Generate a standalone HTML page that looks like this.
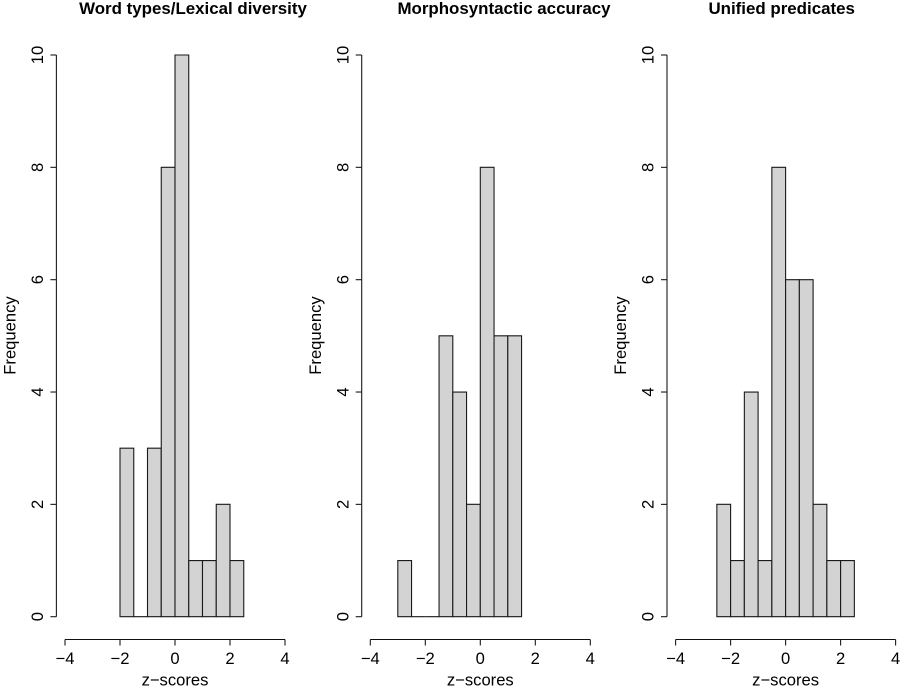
<!DOCTYPE html>
<html>
<head>
<meta charset="utf-8">
<style>
html,body{margin:0;padding:0;background:#fff;}
svg{display:block;}
text{font-family:"Liberation Sans",Arial,sans-serif;fill:#000;}
</style>
</head>
<body>
<svg id="chart" xmlns="http://www.w3.org/2000/svg" width="900" height="691" viewBox="0 0 900 691"></svg>
<script>
const panelTitles = ["Word types/Lexical diversity", "Morphosyntactic accuracy", "Unified predicates"];
const binStarts = [-2, -3, -2.5];
const binWidth = 0.5;
const countsLexical = [3, 0, 3, 8, 10, 1, 1, 2, 1];
const countsMorpho = [1, 0, 0, 5, 4, 2, 8, 5, 5];
const countsUnified = [2, 1, 4, 1, 8, 6, 6, 2, 1, 1];
const xTicks = [-4, -2, 0, 2, 4];
const yTicks = [0, 2, 4, 6, 8, 10];
const xLabel = "z\u2212scores";
const yLabel = "Frequency";

const allCounts = [countsLexical, countsMorpho, countsUnified];
const svg = document.getElementById('chart');
const NS = 'http://www.w3.org/2000/svg';
const layoutLeft = [65, 370.3, 675.6];
const titleCenters = [193, 504, 781.7];
const plotWidth = 220;
const yZero = 616.7, yTen = 55;
const yScale = v => yZero + (yTen - yZero) * v / 10;
const fmt = v => String(v).replace('-', '\u2212');

function make(tag, attrs, parent) {
  const el = document.createElementNS(NS, tag);
  for (const k in attrs) el.setAttribute(k, attrs[k]);
  parent.appendChild(el);
  return el;
}

allCounts.forEach((counts, p) => {
  const left = layoutLeft[p];
  const xScale = v => left + (v + 4) * plotWidth / 8;
  const axisX = left - 8.6;
  const g = make('g', {}, svg);
  
  

  const title = make('text', {x: titleCenters[p], y: 14, 'text-anchor': 'middle', 'font-size': 16.9, 'font-weight': 'bold'}, g);
  title.textContent = panelTitles[p];
  
  

  counts.forEach((c, i) => {
    const x0 = xScale(binStarts[p] + i * binWidth);
    const x1 = xScale(binStarts[p] + (i + 1) * binWidth);
    const top = yScale(c);
    const bar = make('path', {d: `M${x0} ${yZero}V${top}H${x1}V${yZero}Z`, fill: '#d3d3d3', stroke: '#1a1a1a', 'stroke-width': 1.1}, g);
    
    
  });

  const yAxis = make('g', {}, g);
  
  
  make('line', {x1: axisX, x2: axisX, y1: yScale(yTicks[0]), y2: yScale(yTicks[yTicks.length - 1]), stroke: '#1a1a1a', 'stroke-width': 1.1}, yAxis);
  yTicks.forEach(t => {
    const y = yScale(t);
    make('line', {x1: axisX - 6, x2: axisX, y1: y, y2: y, stroke: '#1a1a1a', 'stroke-width': 1.1}, yAxis);
    const lab = make('text', {x: 0, y: 0, 'text-anchor': 'middle', 'font-size': 16.6, transform: `translate(${axisX - 13.3},${y}) rotate(-90)`}, yAxis);
    lab.textContent = fmt(t);
    
    
  });
  const yt = make('text', {x: 0, y: 0, 'text-anchor': 'middle', 'font-size': 16.6, transform: `translate(${axisX - 40.8},335.5) rotate(-90)`}, yAxis);
  yt.textContent = yLabel;
  
  

  const xAxis = make('g', {}, g);
  
  
  const axisY = 639.5;
  make('line', {x1: xScale(xTicks[0]), x2: xScale(xTicks[xTicks.length - 1]), y1: axisY, y2: axisY, stroke: '#111', 'stroke-width': 1}, xAxis);
  xTicks.forEach(t => {
    const x = xScale(t);
    make('line', {x1: x, x2: x, y1: axisY, y2: axisY + 6, stroke: '#1a1a1a', 'stroke-width': 1.1}, xAxis);
    const lab = make('text', {x: x, y: 664, 'text-anchor': 'middle', 'font-size': 16.6}, xAxis);
    lab.textContent = fmt(t);
    
    
  });
  const xt = make('text', {x: xScale(0), y: 685.5, 'text-anchor': 'middle', 'font-size': 16.6}, xAxis);
  xt.textContent = xLabel;
  
  
});
</script>
</body>
</html>
